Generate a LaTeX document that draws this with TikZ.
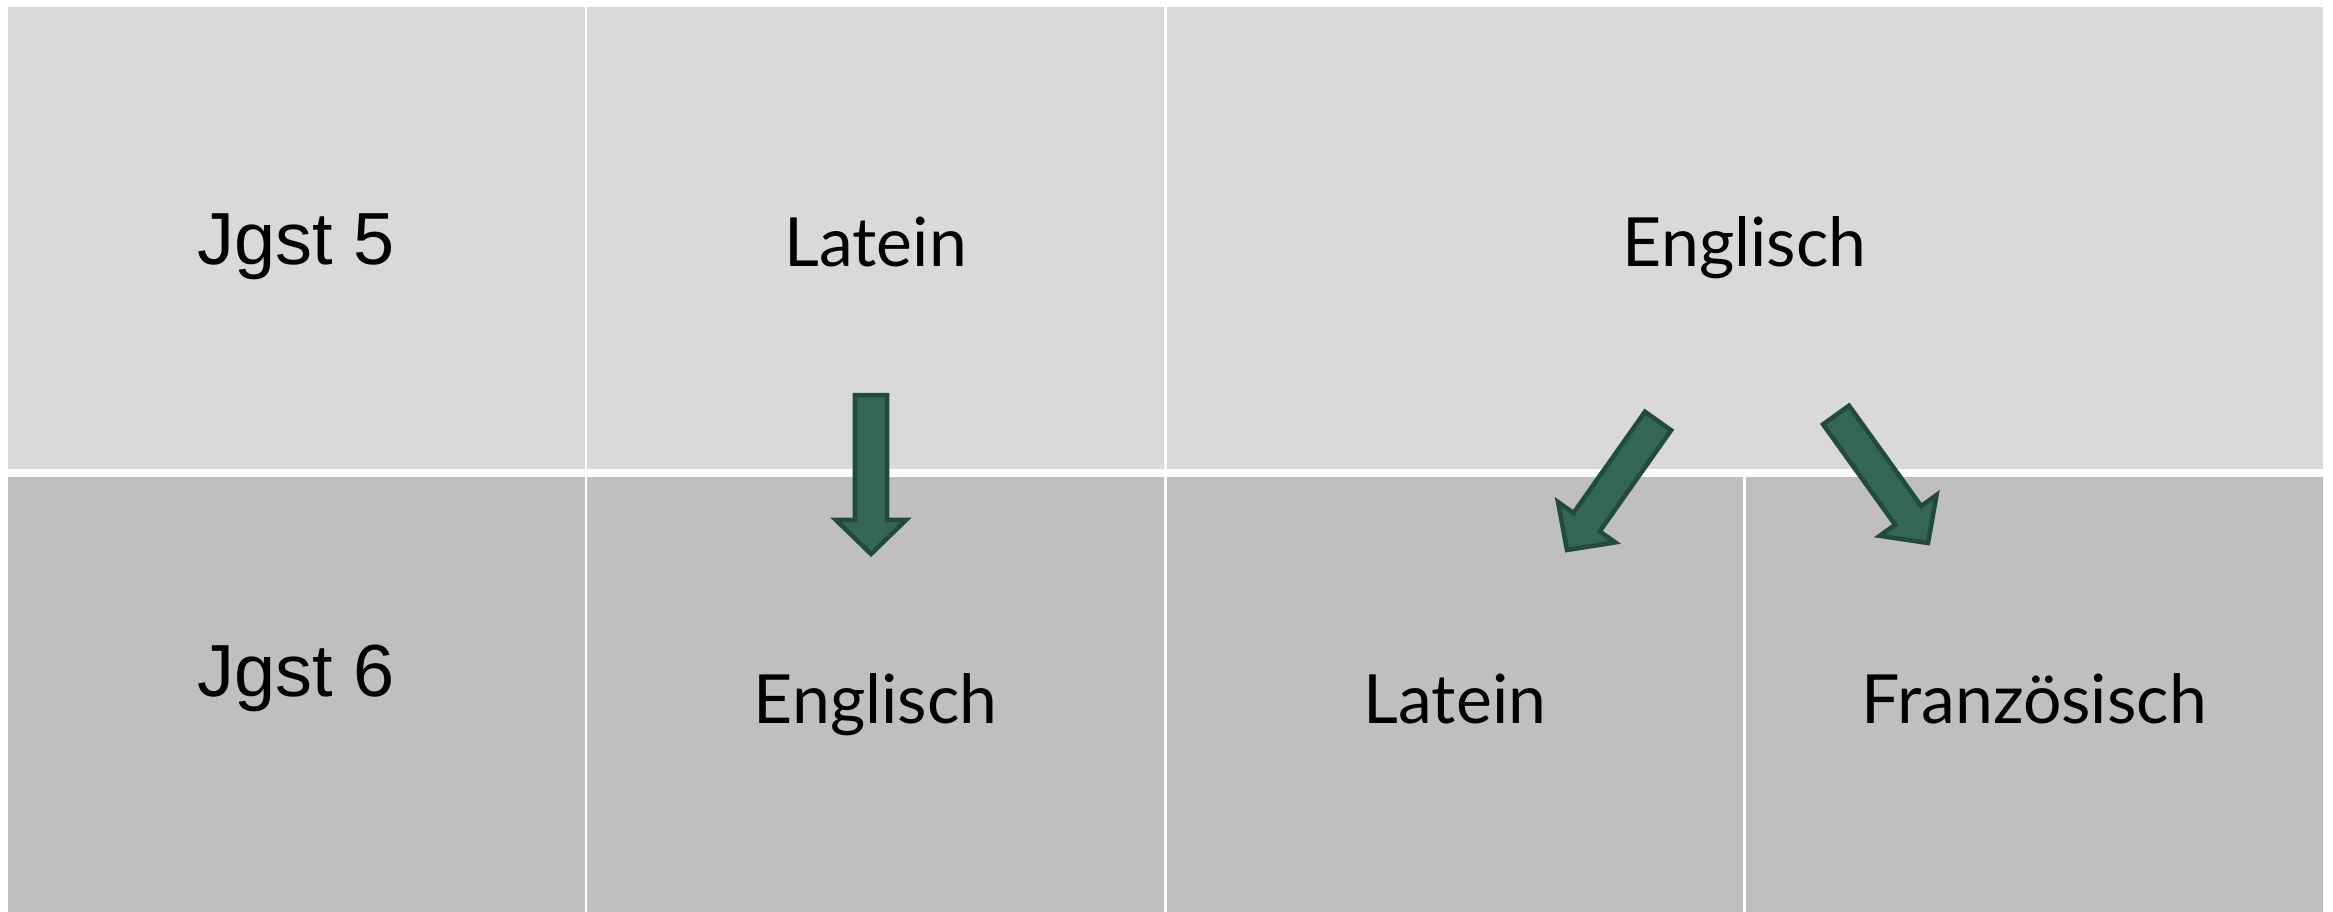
\documentclass[tikz,border=0pt]{standalone}
\usepackage{fontspec}
\setmainfont{Lato}
\newfontfamily\jgstfont{Liberation Sans}
\usepackage{tikz}
\usetikzlibrary{calc,positioning}
\definecolor{topgray}{HTML}{D9D9D9}
\definecolor{botgray}{HTML}{BFBFBF}
\definecolor{arrowfill}{HTML}{346557}
\definecolor{arrowedge}{HTML}{224B3E}
\tikzset{
  cell/.style={rectangle,inner sep=0pt,outer sep=0pt,text height=0.57cm,text depth=0pt,
    font=\fontsize{19.3}{23}\selectfont},
  toprow/.style={cell,fill=topgray,minimum height=4.62cm,minimum width=5.765cm},
  botrow/.style={cell,fill=botgray,minimum height=4.35cm,minimum width=5.765cm},
  jgst/.style={font=\jgstfont\fontsize{21}{25}\selectfont,text height=0.53cm},
  blockarrow/.style={fill=arrowfill,draw=arrowedge,line width=0.045cm,line join=miter}
}
\newcommand{\blockarrow}[2]{%
  \coordinate (#1-#2) at ($(#2)!0.34cm!(#1)$);
  \draw[blockarrow] ($(#1)!0.16cm!90:(#2)$) -- ($(#1-#2)!0.16cm!90:(#2)$)
    -- ($(#1-#2)!0.35cm!90:(#2)$) -- (#2) -- ($(#1-#2)!0.35cm!-90:(#2)$)
    -- ($(#1-#2)!0.16cm!-90:(#2)$) -- ($(#1)!0.16cm!-90:(#2)$) -- cycle;}

\begin{document}
\begin{tikzpicture}[x=0.01cm,y=-0.01cm,node distance=0.025cm]
  \useasboundingbox[fill=white] (0,0) rectangle (2333,912);

  \node[toprow,jgst] (jg5) at (296.25,238) {Jgst 5};
  \node[toprow,right=of jg5] (lat5) {Latein};
  \node[toprow,right=of lat5,minimum width=11.555cm] (eng5) {Englisch};

  \node[botrow,jgst,below=0.08cm of jg5,text depth=0.5cm] (jg6) {Jgst 6};
  \node[botrow,right=of jg6] (eng6) {Englisch};
  \node[botrow,right=of eng6] (lat6) {Latein};
  \node[botrow,right=of lat6] (fr6) {Französisch};

  \coordinate (t1) at (871,395);  \coordinate (h1) at (871,554);
  \coordinate (t2) at (1658,421); \coordinate (h2) at (1567,550);
  \coordinate (t3) at (1836,415); \coordinate (h3) at (1928,543);
  \blockarrow{t1}{h1}
  \blockarrow{t2}{h2}
  \blockarrow{t3}{h3}
\end{tikzpicture}
\end{document}
